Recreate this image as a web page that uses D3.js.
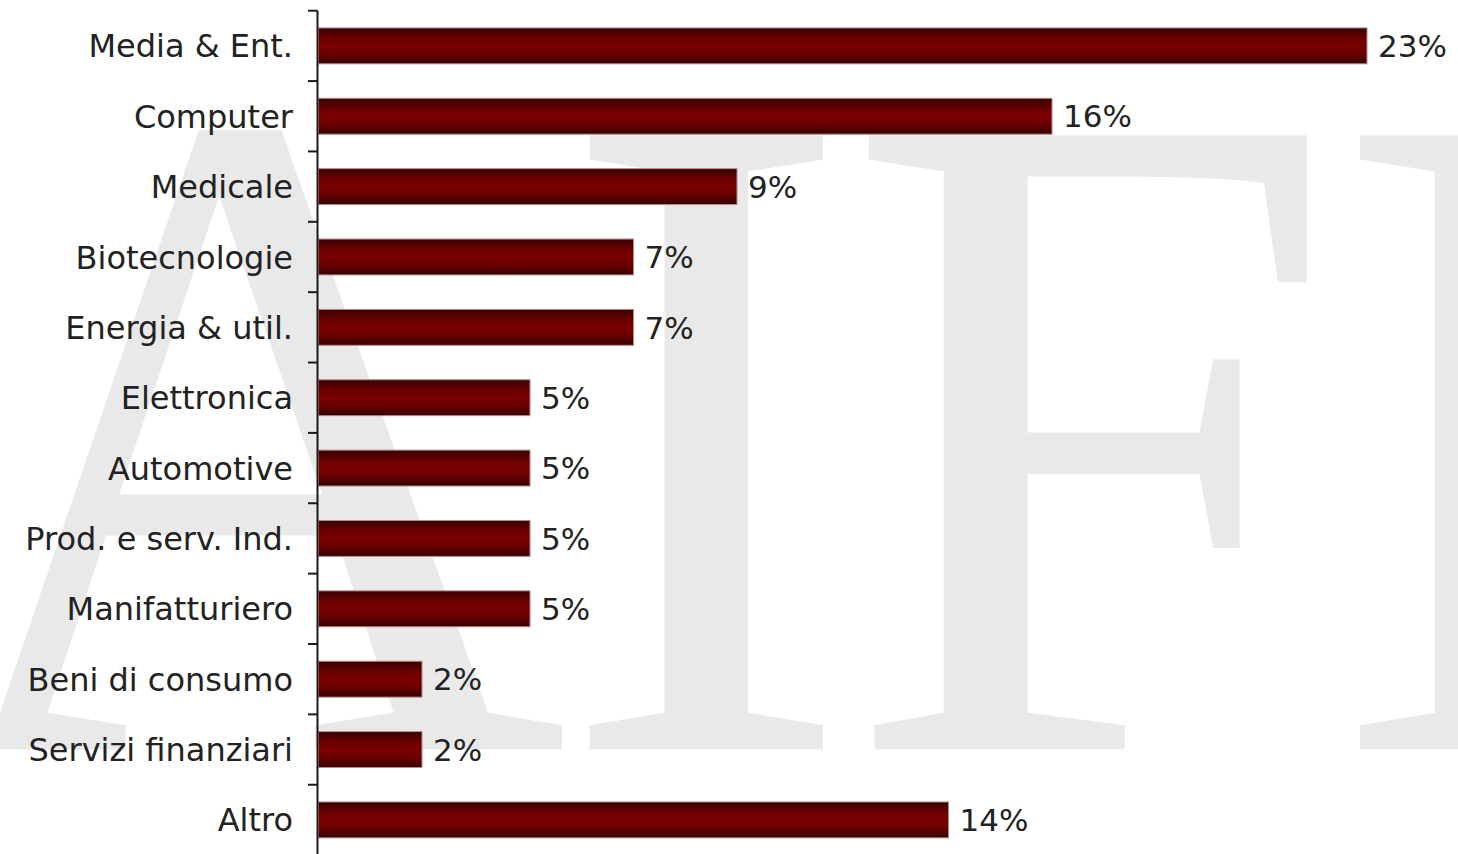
<!DOCTYPE html>
<html>
<head>
<meta charset="utf-8">
<script src="https://cdn.jsdelivr.net/npm/d3@7"></script>
<style>
  html, body { margin: 0; padding: 0; background: #fff; }
  svg { display: block; }
</style>
</head>
<body>
<svg id="chart" width="1458" height="854"></svg>
<script>
// sectors and their share of deals (%)
var categories = ["Media & Ent.", "Computer", "Medicale", "Biotecnologie", "Energia & util.",
  "Elettronica", "Automotive", "Prod. e serv. Ind.", "Manifatturiero",
  "Beni di consumo", "Servizi finanziari", "Altro"];
var values = [23.3, 16.3, 9.3, 7.0, 7.0, 4.7, 4.7, 4.7, 4.7, 2.3, 2.3, 14.0];
var watermark = "AIFI";

var svg = d3.select("#chart");
var W = 1458, H = 854;

var defs = svg.append("defs");
var grad = defs.append("linearGradient")
  .attr("id", "barGrad")
  .attr("x1", 0).attr("y1", 0).attr("x2", 0).attr("y2", 1);
[[0, "#360000"], [0.3, "#6c0000"], [0.5, "#7b0000"], [0.7, "#6c0000"], [1, "#360000"]]
  .forEach(function(s) {
    grad.append("stop").attr("offset", s[0]).attr("stop-color", s[1]);
  });

// watermark behind the chart
svg.append("g")
  .attr("transform", "translate(-75,749.5) scale(0.95,1)")
  .append("text")
  .attr("x", 0).attr("y", 0)
  .attr("font-family", "'Liberation Serif', 'Times New Roman', serif")
  .attr("font-size", 938)
  .attr("letter-spacing", -11.6)
  .style("fill", "#e9e9e9")
  .text(watermark);

var y = d3.scaleBand()
  .domain(categories)
  .range([10.7, 855.1])
  .paddingInner(0.49)
  .paddingOuter(0.245);

var x = d3.scaleLinear()
  .domain([0, d3.max(values)])
  .range([318.5, 1367]);

var data = categories.map(function(c, i) { return {name: c, value: values[i]}; });
var fmt = function(v) { return d3.format(".0f")(v) + "%"; };

// bars
svg.selectAll(".bar")
  .data(data)
  .enter().append("rect")
  .attr("class", "bar")
  .attr("x", x(0))
  .attr("y", function(d) { return y(d.name); })
  .attr("width", function(d) { return x(d.value) - x(0); })
  .attr("height", y.bandwidth())
  .style("fill", "url(#barGrad)")
  .style("stroke", "#b88a8a")
  .style("stroke-width", 1);

// axis line + ticks between categories
var half = (y.step() - y.bandwidth()) / 2;
svg.append("line")
  .attr("x1", 317.5).attr("x2", 317.5)
  .attr("y1", y.range()[0]).attr("y2", H)
  .style("stroke", "#1a1a1a").style("stroke-width", 2);

svg.selectAll(".tick")
  .data(categories)
  .enter().append("line")
  .attr("class", "tick")
  .attr("x1", 308).attr("x2", 317.5)
  .attr("y1", function(d) { return y(d) - half; })
  .attr("y2", function(d) { return y(d) - half; })
  .style("stroke", "#1a1a1a").style("stroke-width", 2);

// category labels
svg.selectAll(".cat")
  .data(data)
  .enter().append("text")
  .attr("class", "cat")
  .attr("x", 293)
  .attr("y", function(d) { return y(d.name) + y.bandwidth() / 2; })
  .attr("dy", ".36em")
  .attr("text-anchor", "end")
  .attr("font-family", "'DejaVu Sans', Verdana, sans-serif")
  .attr("font-size", 32)
  .style("fill", "#222")
  .text(function(d) { return d.name; });

// value labels
svg.selectAll(".val")
  .data(data)
  .enter().append("text")
  .attr("class", "val")
  .attr("x", function(d) { return x(d.value) + 11; })
  .attr("y", function(d) { return y(d.name) + y.bandwidth() / 2; })
  .attr("dy", ".36em")
  .attr("font-family", "'DejaVu Sans', Verdana, sans-serif")
  .attr("font-size", 31)
  .style("fill", "#222")
  .text(function(d) { return fmt(d.value); });
</script>
</body>
</html>
